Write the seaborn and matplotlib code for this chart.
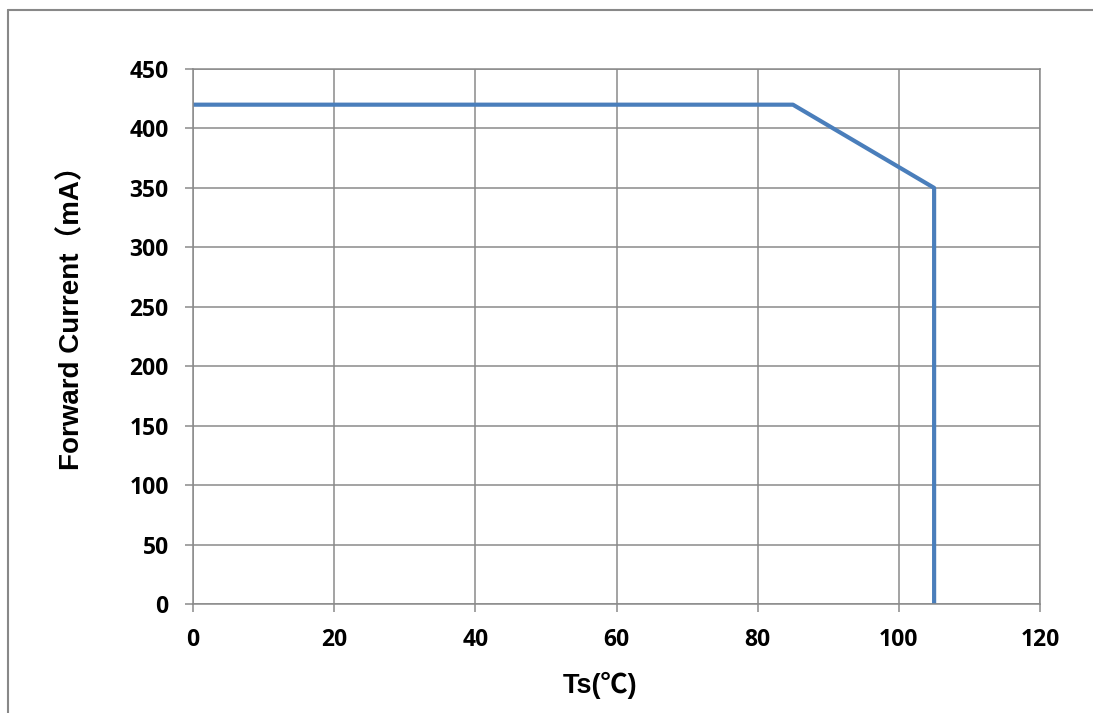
import seaborn as sns
import matplotlib.pyplot as plt
import pandas as pd
from matplotlib.lines import Line2D

# Derating curve data
ts = [0, 85, 105, 105]
current = [420, 420, 350, 0]
x_ticks = [0, 20, 40, 60, 80, 100, 120]
y_ticks = [0, 50, 100, 150, 200, 250, 300, 350, 400, 450]

df = pd.DataFrame({"Ts": ts, "Current": current})

sns.set_style("white")
plt.rcParams['font.family'] = ['Open Sans', 'Noto Sans CJK SC', 'DejaVu Sans']

fig = plt.figure(figsize=(10.93, 7.13), dpi=100)
ax = fig.add_axes([0.1766, 0.1529, 0.9515 - 0.1766, 0.9032 - 0.1529])

sns.lineplot(data=df, x="Ts", y="Current", sort=False, estimator=None,
             color="#4a7ebb", linewidth=3.0, ax=ax)

grid_c = "#8a8a8a"
ax.set_xlim(0, 120)
ax.set_ylim(0, 450)
ax.set_xticks(x_ticks)
ax.set_yticks(y_ticks)
ax.grid(True, color=grid_c, linewidth=1.1)
for s in ax.spines.values():
    s.set_color(grid_c)
    s.set_linewidth(1.1)
ax.tick_params(axis="both", direction="out", length=5.5, width=1.1,
               color=grid_c, labelsize=16.5, labelcolor="black")
ax.tick_params(axis="y", pad=12, left=True)
ax.tick_params(axis="x", pad=12, bottom=True)
for lab in ax.get_xticklabels() + ax.get_yticklabels():
    lab.set_fontweight("bold")

lab_font = ['Liberation Sans', 'Noto Sans CJK SC', 'DejaVu Sans']
ax.set_xlabel("Ts(℃)", fontsize=19.5, fontweight="bold", labelpad=14,
              family=lab_font, color="black")
ax.set_ylabel("Forward Current（mA）", fontsize=20, fontweight="bold", labelpad=32,
              family=lab_font, color="black")
ax.xaxis.label.set_x(0.48)
ax.yaxis.label.set_y(0.548)

# outer frame (left and top edges)
frame_c = "#888888"
fig.add_artist(Line2D([8 / 1093, 8 / 1093], [0, 1 - 10 / 713], color=frame_c,
                      linewidth=1.5, transform=fig.transFigure))
fig.add_artist(Line2D([8 / 1093, 1], [1 - 10 / 713, 1 - 10 / 713], color=frame_c,
                      linewidth=1.5, transform=fig.transFigure))

fig.savefig("out.png", dpi=100)
